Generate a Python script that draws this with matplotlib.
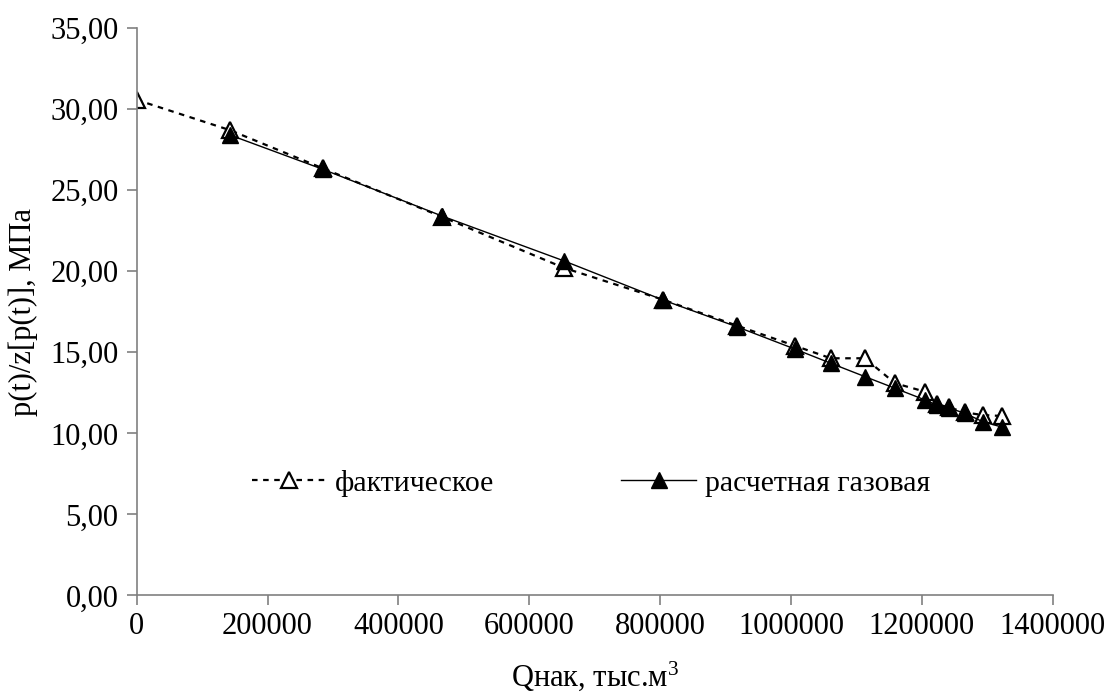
import matplotlib
matplotlib.use("Agg")
import matplotlib.pyplot as plt
from matplotlib.ticker import FuncFormatter, MultipleLocator

plt.rcParams['font.family'] = ['Liberation Serif', 'DejaVu Serif']
plt.rcParams['mathtext.fontset'] = 'custom'
plt.rcParams['mathtext.rm'] = 'Liberation Serif'

# Data
x_fact = [0, 142600, 284300, 467000, 653500, 804000, 917000, 1006000, 1061000,
          1113000, 1159000, 1205000, 1222600, 1242000, 1266000, 1293000, 1323000]
y_fact = [30.57, 28.70, 26.35, 23.35, 20.20, 18.25, 16.65, 15.40, 14.63,
          14.63, 13.09, 12.57, 11.80, 11.60, 11.29, 11.13, 11.07]

x_calc = [142600, 284300, 467000, 653500, 804000, 917000, 1006000, 1061000,
          1113000, 1159000, 1205000, 1222600, 1242000, 1266000, 1293000, 1323000]
y_calc = [28.40, 26.29, 23.40, 20.63, 18.23, 16.58, 15.20, 14.32,
          13.50, 12.78, 12.06, 11.75, 11.55, 11.24, 10.72, 10.38]

label_fact = "фактическое"
label_calc = "расчетная газовая"
xlabel = "Qнак, тыс.м$\\mathregular{^{3}}$"
ylabel = "p(t)/z[p(t)], МПа"

fig = plt.figure(figsize=(11.11, 7.0), dpi=100)
ax = fig.add_axes([0.123, 0.1493, 0.8245, 0.8107])

ax.plot(x_fact, y_fact, color='black', linestyle=(0, (2.5, 2.5)), linewidth=1.6,
        marker='^', markersize=11, markerfacecolor='white',
        markeredgecolor='black', markeredgewidth=1.6, label=label_fact)
ax.plot(x_calc, y_calc, color='black', linestyle='-', linewidth=1.0,
        marker='^', markersize=11, markerfacecolor='black',
        markeredgecolor='black', label=label_calc)

ax.set_xlim(0, 1400000)
ax.set_ylim(0, 35)
ax.xaxis.set_major_locator(MultipleLocator(200000))
ax.yaxis.set_major_locator(MultipleLocator(5))
ax.yaxis.set_major_formatter(FuncFormatter(lambda v, p: f"{v:.2f}".replace('.', ',')))
ax.xaxis.set_major_formatter(FuncFormatter(lambda v, p: f"{int(round(v))}"))

for s in ['top', 'right']:
    ax.spines[s].set_visible(False)
for s in ['left', 'bottom']:
    ax.spines[s].set_color('#808080')
    ax.spines[s].set_linewidth(1.2)

ax.tick_params(axis='both', direction='out', color='#808080', width=1.2,
               labelsize=22, labelcolor='black')
ax.tick_params(axis='y', length=7, pad=6)
ax.tick_params(axis='x', length=7, pad=5)

ax.set_xlabel(xlabel, fontsize=22, labelpad=13)
ax.set_ylabel(ylabel, fontsize=22, labelpad=9)

leg = ax.legend(loc='center left', bbox_to_anchor=(0.1255, 0.198), ncol=2,
                frameon=False, fontsize=21.5, handlelength=2.5, handletextpad=0.3,
                columnspacing=4.25, borderpad=0, borderaxespad=0)

fig.savefig("out.png", dpi=100)
